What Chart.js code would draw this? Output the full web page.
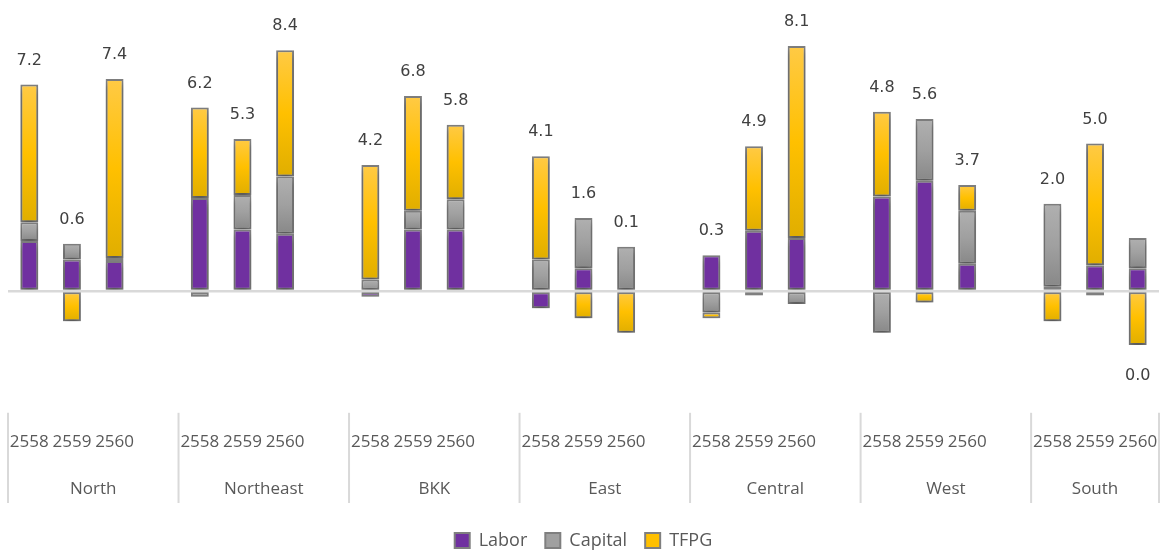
<!DOCTYPE html>
<html>
<head>
<meta charset="utf-8">
<script src="https://cdn.jsdelivr.net/npm/chart.js@4.4.1/dist/chart.umd.min.js"></script>
<style>
  html, body { margin: 0; padding: 0; background: #fff; }
  #wrap { width: 1163px; height: 551px; }
</style>
</head>
<body>
<div id="wrap"><canvas id="growthChart" width="1163" height="551"></canvas></div>
<script>
const regions = ["North", "Northeast", "BKK", "East", "Central", "West", "South"];
const years = ["2558", "2559", "2560"];

// one value per region-year, region by region
const labor   = [1.75, 1.1, 1.05,  3.25, 2.15, 2.0,  -0.2, 2.15, 2.15,  -0.6, 0.8, 0,     1.25, 2.1, 1.85,    3.3, 3.85, 0.95,  0.15, 0.9, 0.8];
const capital = [0.65, 0.55, 0.1,  -0.2, 1.2, 2.0,   0.4, 0.65, 1.05,   1.1, 1.75, 1.55,  -0.75, -0.15, -0.45, -1.45, 2.15, 1.85, 2.9, -0.15, 1.05];
const tfpg    = [4.8, -1.05, 6.25, 3.15, 1.95, 4.4,  4.0, 4.0, 2.6,     3.6, -0.95, -1.45, -0.2, 2.95, 6.7,    2.95, -0.4, 0.9,  -1.05, 4.25, -1.88];
const totals  = [7.2, 0.6, 7.4,    6.2, 5.3, 8.4,    4.2, 6.8, 5.8,     4.1, 1.6, 0.1,    0.3, 4.9, 8.1,      4.8, 5.6, 3.7,    2.0, 5.0, 0.0];

// category slots: three years per region plus an empty gap between regions
const labels = [];
const slot = [];
regions.forEach((r, g) => {
  years.forEach((yr, k) => {
    labels.push(yr);
    slot.push(g * 3 + k);
  });
  if (g < regions.length - 1) {
    labels.push("");
    slot.push(-1);
  }
});
const spread = (arr) => slot.map((s) => (s < 0 ? null : arr[s]));

const solidFill = ["#7030a0", "#a0a0a0", "#ffc000"];

function segmentFill(below, stops, solid) {
  return function (c) {
    if (c.type !== "data" || c.raw == null) return solid;
    const y = c.chart.scales.y;
    if (!y || !c.chart.chartArea) return solid;
    const s = slot[c.dataIndex];
    const v = c.raw;
    let base = 0;
    below.forEach((arr) => {
      if ((arr[s] >= 0) === (v >= 0)) base += arr[s];
    });
    const y1 = y.getPixelForValue(base);
    const y2 = y.getPixelForValue(base + v);
    const t = Math.min(y1, y2), b = Math.max(y1, y2);
    if (!(b - t > 0.5)) return solid;
    const grad = c.chart.ctx.createLinearGradient(0, t, 0, b);
    grad.addColorStop(0, stops[0]);
    grad.addColorStop(0.5, stops[1]);
    grad.addColorStop(1, stops[2]);
    return grad;
  };
}

const shadowPlugin = {
  id: "barShadow",
  beforeDatasetsDraw(chart) {
    const ctx = chart.ctx;
    ctx.save();
    ctx.shadowColor = "rgba(0,0,0,0.35)";
    ctx.shadowBlur = 6;
    ctx.shadowOffsetY = 4;
  },
  afterDatasetsDraw(chart) {
    chart.ctx.restore();
  },
};

const groupAxisPlugin = {
  id: "groupAxis",
  afterDraw(chart) {
    const ctx = chart.ctx;
    const x = chart.scales.x;
    const y = chart.scales.y;
    const catW = x.getPixelForValue(1) - x.getPixelForValue(0);
    const top = chart.chartArea.bottom + 7;
    const bottom = 503;
    ctx.save();
    ctx.strokeStyle = "#d9d9d9";
    ctx.lineWidth = 2;
    ctx.font = "17px 'Open Sans'";
    ctx.fillStyle = "#595959";
    ctx.textAlign = "center";
    ctx.textBaseline = "middle";
    regions.forEach((r, g) => {
      const left = x.getPixelForValue(g * 4) - catW / 2;
      const right = g < regions.length - 1 ? x.getPixelForValue(g * 4 + 4) - catW / 2 : x.getPixelForValue(g * 4 + 2) + catW / 2;
      ctx.beginPath();
      ctx.moveTo(left, top);
      ctx.lineTo(left, bottom);
      ctx.stroke();
      if (g === regions.length - 1) {
        ctx.beginPath();
        ctx.moveTo(right, top);
        ctx.lineTo(right, bottom);
        ctx.stroke();
      }
      ctx.fillText(r, (left + right) / 2, 489);
    });

    // totals above (or below) each stacked bar
    ctx.font = "16px 'DejaVu Sans'";
    ctx.fillStyle = "#404040";
    slot.forEach((s, j) => {
      if (s < 0) return;
      let pos = 0, neg = 0;
      [labor[s], capital[s], tfpg[s]].forEach((v) => {
        if (v >= 0) pos += v; else neg += v;
      });
      const px = x.getPixelForValue(j);
      const py = totals[s] > 0 ? y.getPixelForValue(pos) - 24 : y.getPixelForValue(neg) + 31;
      ctx.fillText(totals[s].toFixed(1), px, py);
    });
    ctx.restore();
  },
};

const legendHeightPlugin = {
  id: "legendHeight",
  beforeInit(chart) {
    const legend = chart.legend;
    if (!legend) return;
    const fit = legend.fit;
    legend.fit = function () {
      fit.call(legend);
      legend.height = 37.5;
    };
  },
};

const barStyle = {
  borderColor: "#7f7f7f",
  borderWidth: 2,
  borderSkipped: false,
  barPercentage: 0.42,
  categoryPercentage: 1.0,
};

new Chart(document.getElementById("growthChart").getContext("2d"), {
  type: "bar",
  data: {
    labels: labels,
    datasets: [
      Object.assign({ label: "Labor", data: spread(labor), backgroundColor: solidFill[0] }, barStyle),
      Object.assign({ label: "Capital", data: spread(capital),
        backgroundColor: segmentFill([labor], ["#b0b0b0", "#a0a0a0", "#888888"], solidFill[1]) }, barStyle),
      Object.assign({ label: "TFPG", data: spread(tfpg),
        backgroundColor: segmentFill([labor, capital], ["#ffca45", "#ffc000", "#e0ae00"], solidFill[2]) }, barStyle),
    ],
  },
  options: {
    responsive: false,
    animation: false,
    layout: { padding: { top: 33, left: 8, right: 4, bottom: 0 } },
    scales: {
      x: {
        stacked: true,
        grid: { display: false },
        border: { display: false },
        ticks: {
          autoSkip: false,
          maxRotation: 0,
          padding: 18,
          color: "#595959",
          font: { family: "'Open Sans'", size: 17 },
        },
        afterFit(scale) {
          scale.height = 107.7;
          scale.paddingLeft = 0;
          scale.paddingRight = 0;
        },
      },
      y: {
        stacked: true,
        min: -4,
        max: 9,
        ticks: { display: false, stepSize: 1 },
        border: { display: false },
        grid: {
          drawTicks: false,
          color: (c) => (c.tick && c.tick.value === 0 ? "#d9d9d9" : "rgba(0,0,0,0)"),
          lineWidth: (c) => (c.tick && c.tick.value === 0 ? 2.5 : 0),
        },
      },
    },
    plugins: {
      tooltip: { enabled: false },
      legend: {
        position: "bottom",
        labels: {
          boxWidth: 15,
          boxHeight: 15,
          padding: 18,
          color: "#595959",
          font: { family: "'Open Sans'", size: 18 },
          generateLabels(chart) {
            const items = Chart.defaults.plugins.legend.labels.generateLabels(chart);
            items.forEach((it, i) => {
              it.fillStyle = solidFill[i];
              it.strokeStyle = "#7f7f7f";
              it.lineWidth = 2;
            });
            return items;
          },
        },
      },
    },
  },
  plugins: [shadowPlugin, groupAxisPlugin, legendHeightPlugin],
});
</script>
</body>
</html>
